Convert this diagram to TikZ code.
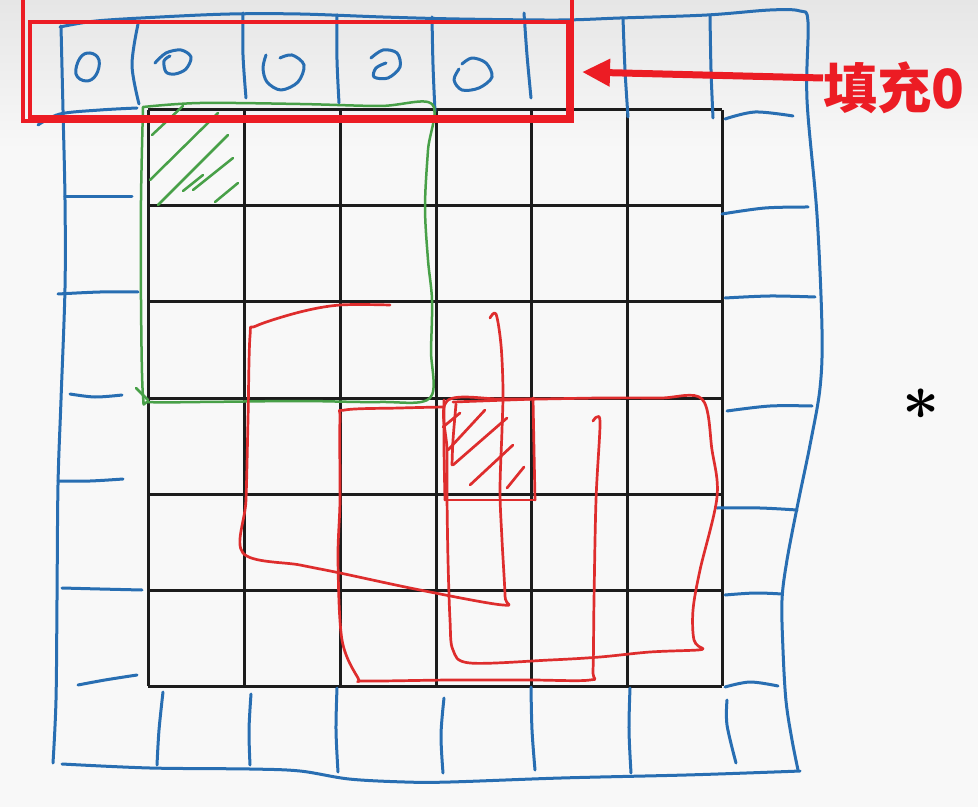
\documentclass[tikz,border=0pt]{standalone}
\usepackage{fontspec}
\newfontfamily\cjk{Noto Sans CJK SC}
\usetikzlibrary{arrows.meta}
\definecolor{penblue}{RGB}{40,110,178}
\definecolor{pengreen}{RGB}{72,160,72}
\definecolor{penred}{RGB}{222,45,45}
\definecolor{markred}{RGB}{236,28,36}
\definecolor{gridblack}{RGB}{28,28,28}
\definecolor{bgtop}{RGB}{230,230,230}
\definecolor{bgbot}{RGB}{248,248,248}
\newcommand{\starsize}{\boldmath\fontsize{60}{60}\selectfont}
\tikzset{
  bluepen/.style={draw=penblue, line width=1.5pt, line cap=round, line join=round},
  greenpen/.style={draw=pengreen, line width=1.25pt, line cap=round, line join=round},
  redpen/.style={draw=penred, line width=1.35pt, line cap=round, line join=round},
  gridline/.style={draw=gridblack, line width=1.5pt},
  markbox/.style={draw=markred, line width=2pt},
  markarrow/.style={draw=markred, line width=3.5pt, -{Triangle[length=14pt,width=13pt]}},
  marklabel/.style={font=\cjk\bfseries\fontsize{27}{30}\selectfont, text=markred, inner sep=0pt, anchor=west},
  asterisk/.style={font=\starsize, inner sep=0pt, anchor=center, scale=1.3, transform shape},
  sm/.style={smooth, tension=0.55}
}
\begin{document}
\begin{tikzpicture}[x=0.5pt,y=-0.5pt]
\useasboundingbox (0,0) rectangle (978,807);
\fill[bgbot] (0,0) rectangle (978,807);
\shade[top color=bgtop, bottom color=bgbot] (0,0) rectangle (978,150);

% black 6x6 grid
\foreach \x in {148,244,340,436,531,627,722} \draw[gridline] (\x,110) -- (\x,686);
\foreach \y in {110,206,302,398,494,590,686} \draw[gridline] (148,\y) -- (722,\y);

% blue padding border
\draw[bluepen] plot[sm] coordinates {(60,27) (96,21) (160,17) (230,14) (300,14) (383,17) (459,19) (560,20) (620,18) (707,15) (770,10) (800,11) (808,22) (807,100) (817,215) (822,330) (820,388) (810,445) (798,503) (787,560) (782,600) (783,650) (786,701) (792,740) (798,770)};
\draw[bluepen] plot[sm] coordinates {(800,771) (774,772) (686,775) (561,778) (450,782) (405,782) (349,779) (300,771) (250,769) (150,768) (62,764)};
\draw[bluepen] plot[sm] coordinates {(61,26) (63,110) (65,200) (65,288) (61,400) (58,485) (57,600) (56,700) (53,763)};
% top row dividers
\draw[bluepen] plot[sm] coordinates {(138,24) (132,65) (139,104)};
\draw[bluepen] plot[sm] coordinates {(243,13) (243,55) (246,98)};
\draw[bluepen] plot[sm] coordinates {(337,15) (337,60) (339,103)};
\draw[bluepen] plot[sm] coordinates {(432,17) (433,65) (435,112)};
\draw[bluepen] plot[sm] coordinates {(524,13) (527,55) (531,98)};
\draw[bluepen] plot[sm] coordinates {(623,18) (625,70) (628,117)};
\draw[bluepen] plot[sm] coordinates {(710,15) (711,70) (713,118)};
% zeros in the top row
\draw[bluepen] plot[smooth cycle, tension=0.7] coordinates {(80,58) (90,53) (99,60) (96,75) (86,81) (76,74)};
\draw[bluepen] plot[sm] coordinates {(155,63) (166,53) (181,50) (191,57) (186,69) (175,74) (166,72) (164,61) (170,56)};
\draw[bluepen] plot[sm] coordinates {(266,55) (263,68) (267,82) (281,90) (298,82) (304,65) (292,55) (280,58)};
\draw[bluepen] plot[sm] coordinates {(371,58) (383,50) (397,53) (400,67) (388,78) (374,77) (376,68) (386,63)};
\draw[bluepen] plot[sm] coordinates {(462,64) (472,58) (486,63) (492,77) (479,88) (462,90) (454,80) (459,69)};
% left ticks
\draw[bluepen] plot[sm] coordinates {(38,125) (60,114) (100,110) (137,108)};
\draw[bluepen] plot[sm] coordinates {(65,197) (100,197) (132,197)};
\draw[bluepen] plot[sm] coordinates {(58,294) (100,292) (138,292)};
\draw[bluepen] plot[sm] coordinates {(70,394) (95,397) (122,395)};
\draw[bluepen] plot[sm] coordinates {(58,481) (90,481) (123,479)};
\draw[bluepen] plot[sm] coordinates {(62,588) (100,589) (142,590)};
\draw[bluepen] plot[sm] coordinates {(78,685) (105,680) (137,675)};
% right ticks
\draw[bluepen] plot[sm] coordinates {(725,119) (755,112) (793,116)};
\draw[bluepen] plot[sm] coordinates {(722,214) (765,208) (808,207)};
\draw[bluepen] plot[sm] coordinates {(725,298) (770,296) (815,297)};
\draw[bluepen] plot[sm] coordinates {(727,411) (770,406) (812,406)};
\draw[bluepen] plot[sm] coordinates {(717,508) (760,508) (797,510)};
\draw[bluepen] plot[sm] coordinates {(725,595) (755,593) (782,594)};
\draw[bluepen] plot[sm] coordinates {(725,687) (750,682) (778,686)};
% bottom ticks
\draw[bluepen] plot[sm] coordinates {(163,692) (159,730) (157,765)};
\draw[bluepen] plot[sm] coordinates {(251,694) (249,730) (250,765)};
\draw[bluepen] plot[sm] coordinates {(337,688) (336,730) (338,772)};
\draw[bluepen] plot[sm] coordinates {(444,698) (441,735) (443,773)};
\draw[bluepen] plot[sm] coordinates {(531,687) (532,730) (535,770)};
\draw[bluepen] plot[sm] coordinates {(630,688) (629,730) (631,773)};
\draw[bluepen] plot[sm] coordinates {(727,700) (727,725) (736,763)};

% green 3x3 window with hatched top-left cell
\draw[greenpen] plot[sm] coordinates {(143,107) (200,103) (300,104) (380,106) (432,104) (428,150) (425,207) (428,260) (432,300) (431,350) (430,398) (380,402) (300,401) (200,402) (150,402) (143,396) (141,300) (141,200) (143,107)};
\draw[greenpen] (136,388) -- (148,400);
\draw[greenpen] (152,135) -- (183,106);
\draw[greenpen] (150,180) -- (218,113);
\draw[greenpen] (158,205) -- (228,135);
\draw[greenpen] (183,191) -- (203,175);
\draw[greenpen] (193,190) -- (233,158);
\draw[greenpen] (215,202) -- (238,183);

% red windows
\draw[redpen] plot[sm] coordinates {(390,305) (340,305) (300,312) (256,326) (250,336) (248,420) (246,500) (243,553) (300,565) (340,573) (420,590) (503,605) (505,596) (502,540) (500,490) (502,430) (503,390) (501,345) (496,314) (490,318)};
\draw[redpen] plot[sm] coordinates {(443,407) (400,408) (345,410) (340,420) (340,500) (338,560) (342,640) (358,678) (365,681) (450,680) (530,680) (590,680) (593,670) (594,600) (596,500) (600,425) (597,417) (593,421)};
\draw[redpen] plot[sm] coordinates {(702,648) (694,640) (693,610) (700,570) (717,497) (712,450) (702,399) (660,398) (600,398) (540,399) (500,399) (447,401) (447,450) (447,497) (448,560) (450,620) (453,650) (470,663) (550,660) (600,657) (650,652) (698,650) (702,648)};
\draw[redpen] (453,402) -- (535,399);
% hatched target cell
\draw[redpen] plot[sm] coordinates {(444,400) (444,450) (445,500)};
\draw[redpen] plot[sm] coordinates {(445,500) (490,500) (535,500)};
\draw[redpen] plot[sm] coordinates {(533,398) (534,450) (535,500)};
\draw[redpen] plot[sm] coordinates {(456,404) (453,440) (452,465)};
\draw[redpen] (443,427) -- (460,413);
\draw[redpen] (448,450) -- (485,410);
\draw[redpen] (453,465) -- (507,418);
\draw[redpen] (470,485) -- (513,445);
\draw[redpen] (507,488) -- (524,467);

% red marker boxes around the padding row
\draw[markbox] (23,-1.5) rectangle (572,121);
\draw[markbox] (30,22) rectangle (568,117);

% label and arrow
\node[marklabel] (lbl) at (823,88) {填充0};
\coordinate (padtip) at (582,72);
\draw[markarrow] ([yshift=5pt]lbl.west) -- (padtip);

% asterisk
\node[asterisk] (star) at (921,404) {$\ast$};
\end{tikzpicture}
\end{document}
